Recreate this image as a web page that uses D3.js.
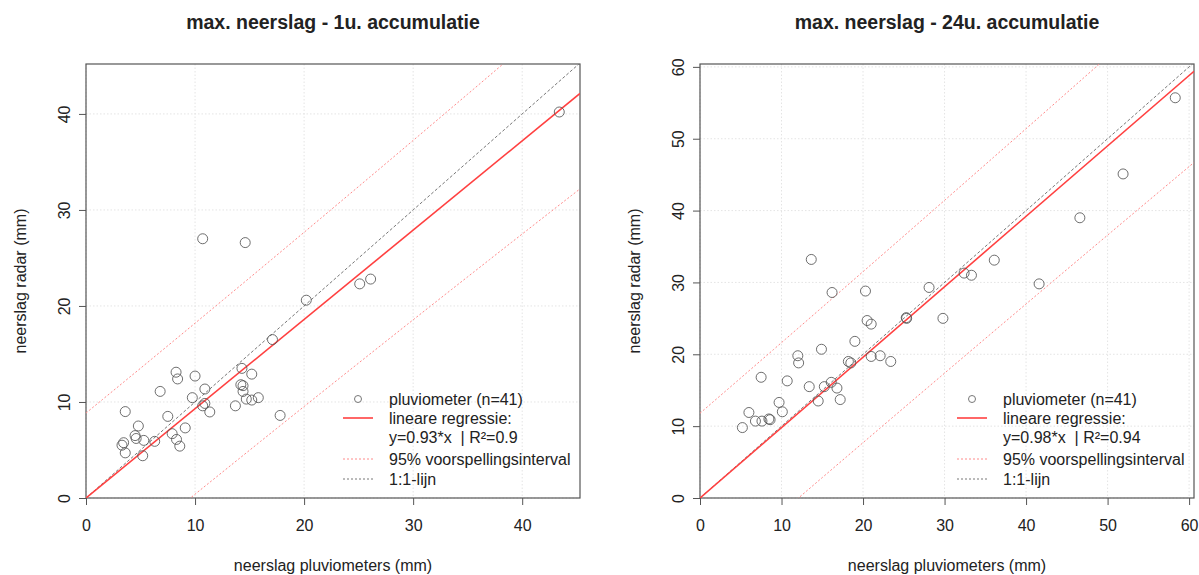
<!DOCTYPE html>
<html lang="nl">
<head>
<meta charset="UTF-8">
<title>max. neerslag radar vs pluviometers</title>
<script src="https://cdn.jsdelivr.net/npm/d3@7"></script>
<style>
  body { margin: 0; background: #fff; }
  text { font-family: "Liberation Sans", Arial, sans-serif; fill: #222; }
</style>
</head>
<body>
<svg id="chart" width="1199" height="575"></svg>
<script>
// --- data ---
const titles = ["max. neerslag - 1u. accumulatie", "max. neerslag - 24u. accumulatie"];
const ticks1 = [0, 10, 20, 30, 40];
const ticks24 = [0, 10, 20, 30, 40, 50, 60];

const pluvio1 = [10.7, 14.6, 20.2, 17.1, 14.3, 15.2, 8.26, 8.4, 10.0, 10.9, 14.2, 14.4, 14.4, 6.8,
  9.75, 14.7, 15.2, 15.8, 10.9, 10.7, 13.7, 11.35, 17.8, 3.6, 7.5, 4.8, 9.1, 4.5, 4.6, 5.3, 6.3,
  7.9, 8.3, 8.6, 3.45, 3.3, 3.6, 5.2, 43.4, 25.1, 26.1];
const radar1 = [27.0, 26.6, 20.6, 16.5, 13.5, 12.9, 13.1, 12.4, 12.7, 11.35, 11.8, 11.7, 11.1, 11.1,
  10.45, 10.3, 10.2, 10.45, 9.85, 9.6, 9.6, 8.96, 8.6, 9.0, 8.5, 7.5, 7.3, 6.5, 6.2, 6.0, 5.9,
  6.7, 6.1, 5.4, 5.76, 5.5, 4.7, 4.4, 40.2, 22.3, 22.8];

const pluvio24 = [13.65, 16.2, 20.3, 28.1, 29.8, 25.3, 25.35, 20.5, 21.0, 19.0, 14.9, 12.0, 12.1,
  21.0, 22.1, 23.4, 18.2, 18.5, 7.5, 10.7, 13.4, 15.25, 16.1, 16.8, 14.5, 17.2, 9.7, 10.1, 6.0,
  6.8, 7.6, 8.45, 8.6, 5.2, 51.9, 46.6, 36.1, 32.4, 33.3, 41.6, 58.3];
const radar24 = [33.2, 28.6, 28.8, 29.3, 25.0, 25.1, 25.0, 24.7, 24.2, 21.8, 20.7, 19.8, 18.8,
  19.7, 19.8, 19.0, 19.0, 18.8, 16.8, 16.3, 15.5, 15.5, 16.1, 15.3, 13.5, 13.7, 13.3, 12.0, 11.9,
  10.7, 10.7, 11.0, 10.9, 9.8, 45.1, 39.0, 33.1, 31.3, 31.0, 29.8, 55.7];

// fit results shown in the legend
const slopes = [0.93, 0.98];
const r2s = ["0.9", "0.94"];
const piHalf = [8.85, 11.8];   // half-width of prediction interval at x=0
const legendLabels = ["pluviometer (n=41)", "lineare regressie:", null,
  "95% voorspellingsinterval", "1:1-lijn"];

const svg = d3.select("#chart");

function panel(i, left, xmax, ymax, ticks, xs, ys) {
  const top = 64, bottom = 498, right = left + 494;
  const x = d3.scaleLinear().domain([0, xmax]).range([left, right]);
  const y = d3.scaleLinear().domain([0, ymax]).range([bottom, top]);
  const g = svg.append("g");
  const cx = (left + right) / 2;

  g.append("clipPath").attr("id", "clip" + i)
    .append("rect").attr("x", left).attr("y", top)
    .attr("width", right - left).attr("height", bottom - top);

  // grid
  g.selectAll(".gx").data(ticks).join("line")
    .attr("x1", d => x(d)).attr("x2", d => x(d)).attr("y1", top).attr("y2", bottom)
    .attr("stroke", "#e4e4e4").attr("stroke-dasharray", "1.5,2");
  g.selectAll(".gy").data(ticks).join("line")
    .attr("y1", d => y(d)).attr("y2", d => y(d)).attr("x1", left).attr("x2", right)
    .attr("stroke", "#e4e4e4").attr("stroke-dasharray", "1.5,2");

  // axes
  const ax = g.append("g").attr("transform", `translate(0,${bottom})`)
    .call(d3.axisBottom(x).tickValues(ticks).tickSize(7).tickPadding(15));
  const ay = g.append("g").attr("transform", `translate(${left},0)`)
    .call(d3.axisLeft(y).tickValues(ticks).tickSize(7).tickPadding(8));
  [ax, ay].forEach(a => {
    a.select(".domain").remove();
    a.selectAll("line").attr("stroke", "#555");
    a.selectAll("text").attr("font-size", 16).attr("fill", "#222")
      .attr("font-family", '"Liberation Sans", Arial, sans-serif');
  });
  // y tick labels run along the axis, as in R
  ay.selectAll("text")
    .attr("x", 0).attr("y", 0).attr("dy", "0.35em")
    .attr("text-anchor", "middle")
    .attr("transform", "translate(-22,0) rotate(-90)");

  g.append("rect").attr("x", left).attr("y", top)
    .attr("width", right - left).attr("height", bottom - top)
    .attr("fill", "none").attr("stroke", "#555").attr("stroke-width", 1.2);

  // lines
  const slope = slopes[i];
  const sxx = d3.sum(xs, v => v * v);
  const xsLine = d3.range(0, xmax + 0.5, 0.5);
  const lines = g.append("g").attr("clip-path", `url(#clip${i})`);
  const line = d3.line().x(d => x(d[0])).y(d => y(d[1]));
  [1, -1].forEach(s => {
    lines.append("path")
      .attr("d", line(xsLine.map(v => [v, slope * v + s * piHalf[i] * Math.sqrt(1 + v * v / sxx)])))
      .attr("fill", "none").attr("stroke", "#ff8a8a").attr("stroke-dasharray", "2,2");
  });
  lines.append("path").attr("d", line([[0, 0], [xmax, xmax]]))
    .attr("fill", "none").attr("stroke", "#777").attr("stroke-dasharray", "3,2");
  lines.append("path").attr("d", line([[0, 0], [xmax, slope * xmax]]))
    .attr("fill", "none").attr("stroke", "#ff4040").attr("stroke-width", 1.6);

  // points
  g.selectAll(".pt").data(xs).join("circle")
    .attr("cx", d => x(d)).attr("cy", (d, k) => y(ys[k])).attr("r", 5)
    .attr("fill", "none").attr("stroke", "#555").attr("stroke-opacity", 0.85);

  // titles
  g.append("text").attr("x", cx).attr("y", 29).attr("text-anchor", "middle")
    .attr("font-size", 19.5).attr("font-weight", "bold").text(titles[i]);
  g.append("text").attr("x", cx).attr("y", 571).attr("text-anchor", "middle")
    .attr("font-size", 16).text("neerslag pluviometers (mm)");
  g.append("text").attr("transform", `translate(${left - 66},${(top + bottom) / 2}) rotate(-90)`)
    .attr("text-anchor", "middle").attr("dy", "0.35em")
    .attr("font-size", 16).text("neerslag radar (mm)");

  // legend
  const lx = left + 272, ly = [399, 418, 437, 459, 479];
  const labels = legendLabels.slice();
  labels[2] = `y=${slope}*x  | R²=${r2s[i]}`;
  g.selectAll(".lt").data(labels).join("text")
    .attr("x", lx + 31).attr("y", (d, k) => ly[k]).attr("dy", "0.35em")
    .attr("font-size", 16).attr("xml:space", "preserve").text(d => d);
  g.append("circle").attr("cx", lx).attr("cy", ly[0]).attr("r", 3.5)
    .attr("fill", "none").attr("stroke", "#777");
  g.append("line").attr("x1", lx - 15).attr("x2", lx + 15).attr("y1", ly[1]).attr("y2", ly[1])
    .attr("stroke", "#ff4040").attr("stroke-width", 1.6);
  g.append("line").attr("x1", lx - 15).attr("x2", lx + 15).attr("y1", ly[3]).attr("y2", ly[3])
    .attr("stroke", "#ff8a8a").attr("stroke-dasharray", "2,2");
  g.append("line").attr("x1", lx - 15).attr("x2", lx + 15).attr("y1", ly[4]).attr("y2", ly[4])
    .attr("stroke", "#777").attr("stroke-dasharray", "2,2");
}

panel(0, 86, 45.3, 45.2, ticks1, pluvio1, radar1);
panel(1, 700, 60.6, 60.4, ticks24, pluvio24, radar24);
</script>
</body>
</html>
